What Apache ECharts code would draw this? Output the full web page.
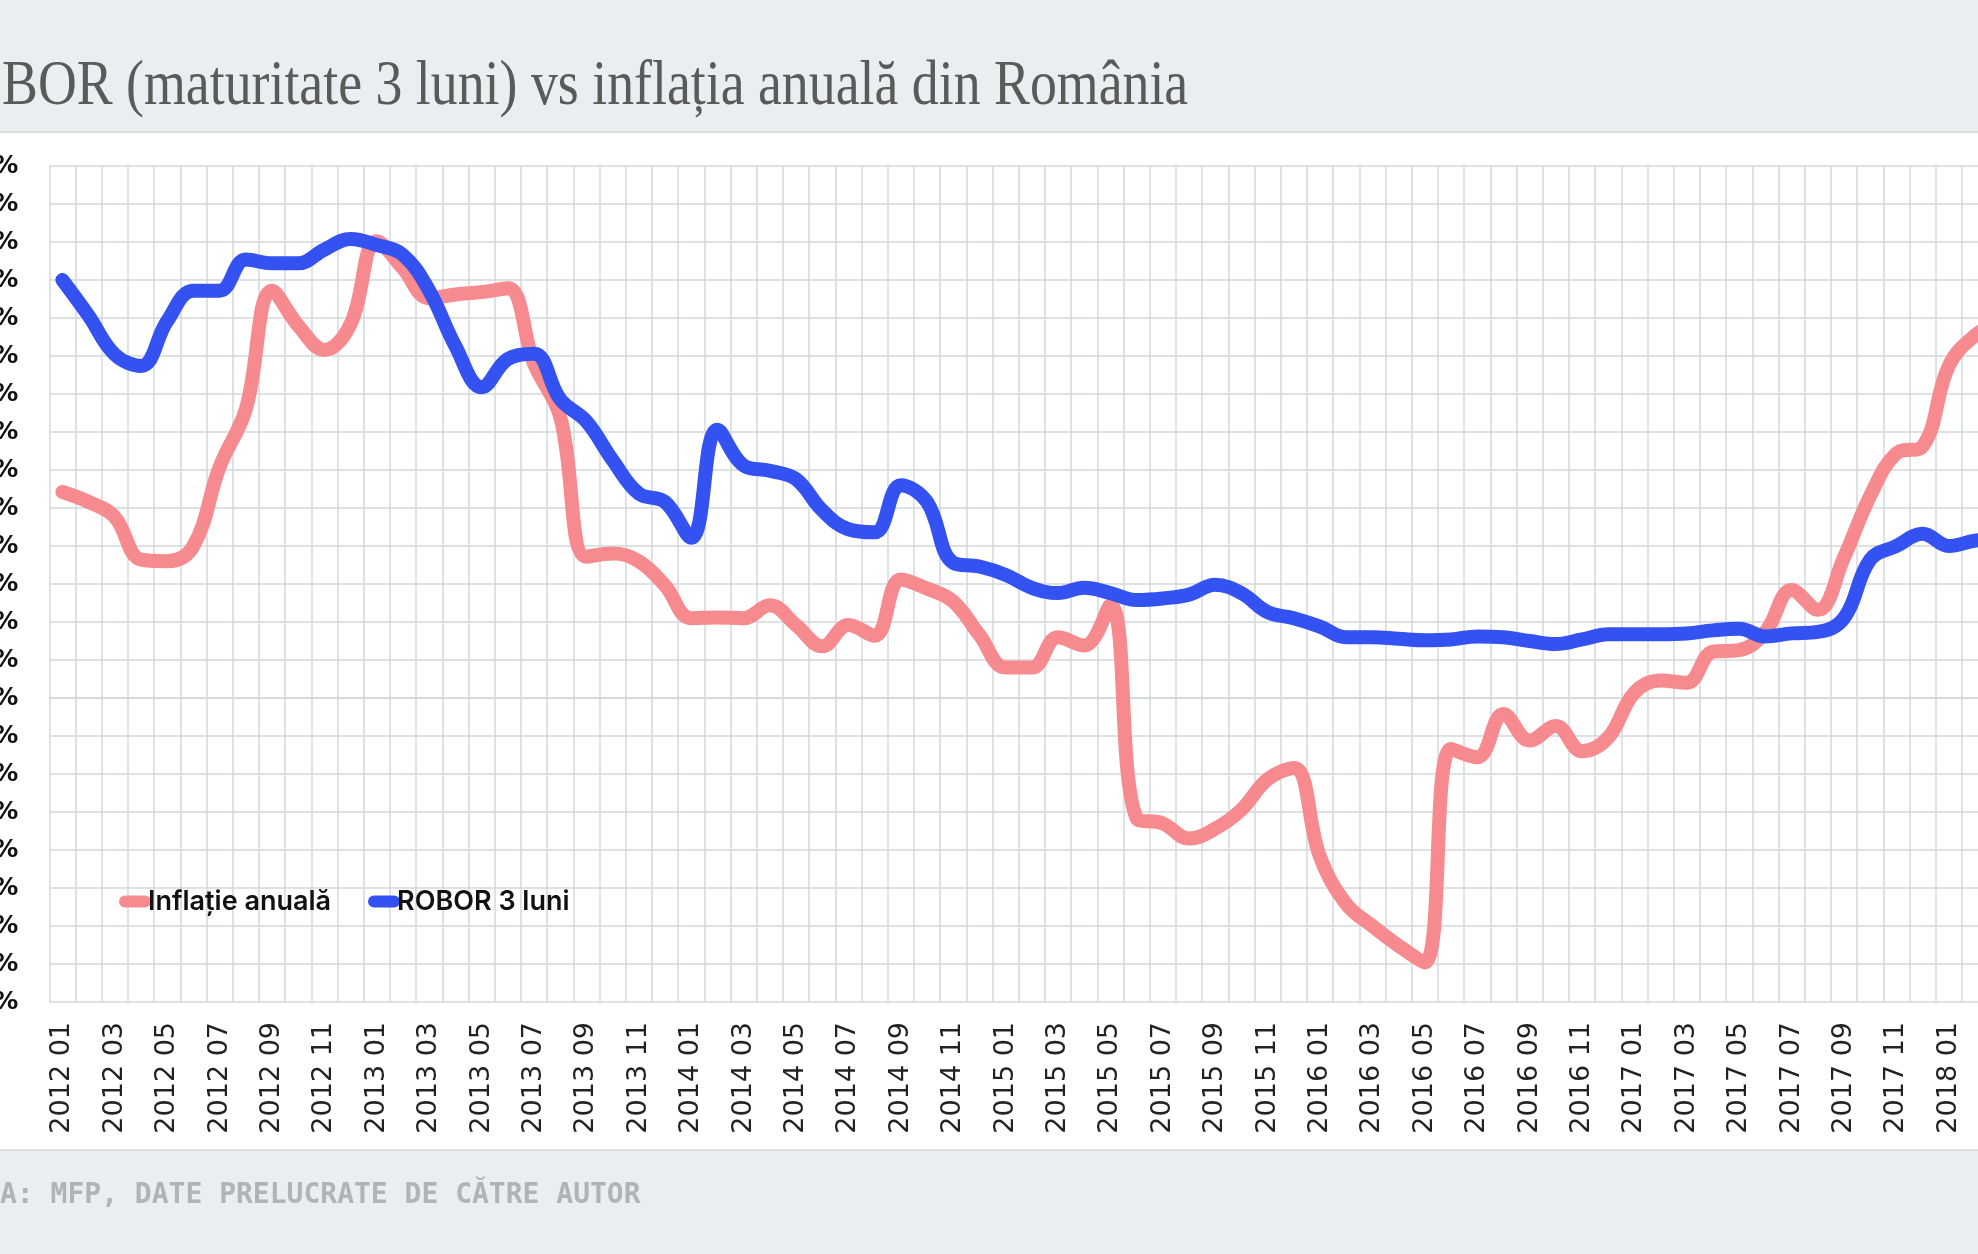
<!DOCTYPE html>
<html>
<head>
<meta charset="utf-8">
<script src="https://cdn.jsdelivr.net/npm/echarts@6/dist/echarts.min.js"></script>
<style>
html,body{margin:0;padding:0;background:#fff;overflow:hidden;}
#c{width:1978px;height:1254px;}
</style>
</head>
<body>
<div id="c"></div>
<script>
const TITLE = 'ROBOR (maturitate 3 luni) vs inflația anuală din România';
const SOURCE = 'SURSA: MFP, DATE PRELUCRATE DE CĂTRE AUTOR';
const seriesNames = ['Inflație anuală', 'ROBOR 3 luni'];

const categories = [
  '2012 01','2012 02','2012 03','2012 04','2012 05','2012 06','2012 07','2012 08','2012 09','2012 10','2012 11','2012 12',
  '2013 01','2013 02','2013 03','2013 04','2013 05','2013 06','2013 07','2013 08','2013 09','2013 10','2013 11','2013 12',
  '2014 01','2014 02','2014 03','2014 04','2014 05','2014 06','2014 07','2014 08','2014 09','2014 10','2014 11','2014 12',
  '2015 01','2015 02','2015 03','2015 04','2015 05','2015 06','2015 07','2015 08','2015 09','2015 10','2015 11','2015 12',
  '2016 01','2016 02','2016 03','2016 04','2016 05','2016 06','2016 07','2016 08','2016 09','2016 10','2016 11','2016 12',
  '2017 01','2017 02','2017 03','2017 04','2017 05','2017 06','2017 07','2017 08','2017 09','2017 10','2017 11','2017 12',
  '2018 01','2018 02','2018 03'
];

const inflatie = [
  2.71, 2.58, 2.38, 1.82, 1.80, 2.00, 3.04, 3.80, 5.36, 4.90, 4.58, 4.92,
  6.01, 5.65, 5.26, 5.31, 5.34, 5.39, 4.40, 3.70, 1.86, 1.90, 1.80, 1.48,
  1.05, 1.06, 1.05, 1.22, 0.96, 0.68, 0.96, 0.82, 1.56, 1.44, 1.27, 0.83,
  0.40, 0.40, 0.80, 0.69, 1.22, -1.58, -1.65, -1.85, -1.72, -1.47, -1.07, -0.92,
  -2.09, -2.71, -3.00, -3.26, -3.48, -0.67, -0.78, -0.21, -0.56, -0.37, -0.70, -0.52,
  0.07, 0.23, 0.20, 0.61, 0.63, 0.87, 1.42, 1.16, 1.85, 2.66, 3.22, 3.31,
  4.37, 4.77, 4.95
];

const robor3m = [
  5.50, 5.03, 4.52, 4.37, 4.96, 5.36, 5.36, 5.77, 5.72, 5.72, 5.90, 6.04,
  5.96, 5.83, 5.36, 4.63, 4.09, 4.46, 4.53, 3.93, 3.64, 3.13, 2.69, 2.58,
  2.11, 3.53, 3.06, 2.99, 2.88, 2.47, 2.22, 2.18, 2.80, 2.58, 1.78, 1.73,
  1.62, 1.45, 1.38, 1.45, 1.38, 1.29, 1.31, 1.36, 1.49, 1.38, 1.13, 1.05,
  0.94, 0.80, 0.80, 0.78, 0.76, 0.77, 0.81, 0.80, 0.75, 0.71, 0.77, 0.84,
  0.84, 0.84, 0.85, 0.89, 0.91, 0.81, 0.85, 0.87, 1.05, 1.82, 2.00, 2.16,
  2.00, 2.07, 2.10
];

const yMin = -4, yMax = 7, yStep = 0.5;

// measure text to place partially cropped texts
const mctx = document.createElement('canvas').getContext('2d');
function textW(font, s){ mctx.font = font; return mctx.measureText(s).width; }

const titleFamily = '"Liberation Serif", serif';
const visibleTitle = TITLE.slice(2);
const refW = textW('100px ' + titleFamily, visibleTitle);
const titleSize = Math.round(100 * 1186 / refW * 10) / 10;
const titleFont = titleSize + 'px ' + titleFamily;
const titleX = 2 - textW(titleFont, 'RO');

const srcFont = 'bold 28px "DejaVu Sans Mono", monospace';
const srcX = 0 - textW(srcFont, 'SURS');

const chart = echarts.init(document.getElementById('c'), null, {renderer: 'canvas'});
const capsule = 'path://M6,0H26A6,6,0,0,1,26,12H6A6,6,0,0,1,6,0Z';

chart.setOption({
  backgroundColor: '#ffffff',
  animation: false,
  graphic: [
    {type: 'rect', z: -1, shape: {x: 0, y: 0, width: 1978, height: 132}, style: {fill: '#e9eef0'}},
    {type: 'rect', z: -1, shape: {x: 0, y: 131, width: 1978, height: 2}, style: {fill: '#d9dee0'}},
    {type: 'rect', z: -1, shape: {x: 0, y: 1150, width: 1978, height: 104}, style: {fill: '#e9eef0'}},
    {type: 'rect', z: -1, shape: {x: 0, y: 1149, width: 1978, height: 2}, style: {fill: '#d9dee0'}},
    {type: 'text', x: titleX, y: 103 - titleSize * 0.3, scaleY: 1.18, originX: 0, originY: 0,
      style: {text: TITLE, font: titleFont, fill: '#5a5a5a', verticalAlign: 'middle'}},
    {type: 'text', x: srcX, y: 1196, style: {text: SOURCE, font: srcFont, fill: '#b0b4b7', verticalAlign: 'middle'}}
  ],
  legend: {
    left: 114, top: 883,
    itemWidth: 32, itemHeight: 13, itemGap: 37,
    icon: capsule,
    textStyle: {fontFamily: 'Inter', fontWeight: 600, fontSize: 27, color: '#111', padding: [0, 0, 0, -8]},
    data: seriesNames
  },
  grid: {left: 49.3, top: 166, width: 26.2 * categories.length, height: 836, containLabel: false, outerBoundsMode: 'none'},
  xAxis: {
    type: 'category',
    data: categories,
    boundaryGap: true,
    axisLine: {show: true, lineStyle: {color: '#d4d8db', width: 1.5}},
    axisTick: {show: false},
    axisLabel: {interval: 1, rotate: 90, margin: 20, fontFamily: 'DejaVu Sans', fontSize: 27, color: '#222'},
    splitLine: {show: true, interval: 0, lineStyle: {color: '#d4d8db', width: 1.5}}
  },
  yAxis: {
    type: 'value',
    min: yMin, max: yMax, interval: yStep,
    axisLine: {show: false},
    axisTick: {show: false},
    axisLabel: {margin: 31, fontFamily: 'DejaVu Sans', fontWeight: 'bold', fontSize: 25, color: '#111',
      formatter: v => v.toFixed(1).replace('.', ',') + '%'},
    splitLine: {show: true, lineStyle: {color: '#d4d8db', width: 1.5}}
  },
  series: [
    {
      name: seriesNames[0], type: 'line', data: inflatie, smooth: 0.4,
      symbol: 'none', color: '#f78a8e',
      lineStyle: {width: 14, color: '#f78a8e', cap: 'round', join: 'round'}
    },
    {
      name: seriesNames[1], type: 'line', data: robor3m, smooth: 0.4,
      symbol: 'none', color: '#3451f2',
      lineStyle: {width: 14, color: '#3451f2', cap: 'round', join: 'round'}
    }
  ]
});
</script>
</body>
</html>
